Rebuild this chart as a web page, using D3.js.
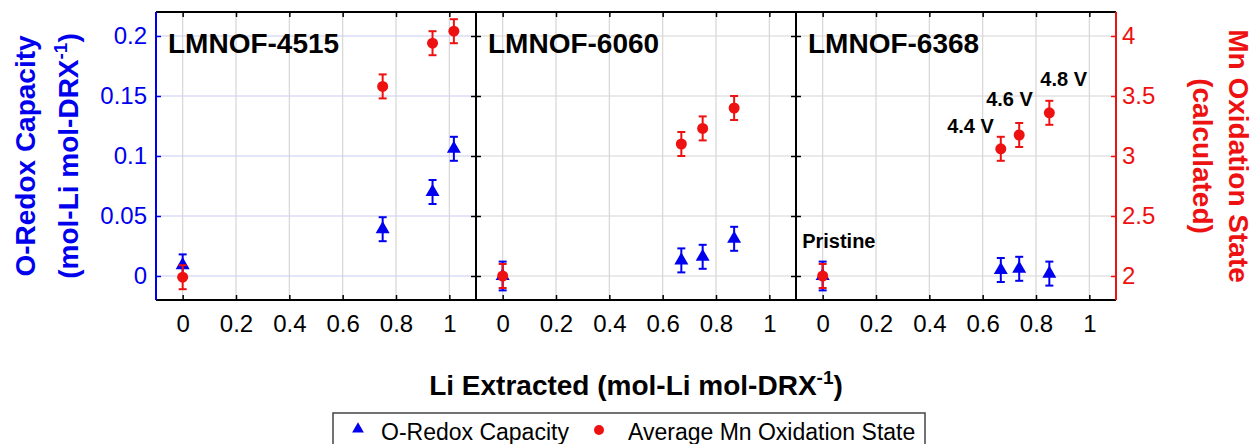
<!DOCTYPE html>
<html>
<head>
<meta charset="utf-8">
<script src="https://cdn.jsdelivr.net/npm/d3@7"></script>
<style>
  body { margin: 0; background: #fff; }
  svg { display: block; font-family: "Liberation Sans", Arial, sans-serif; }
</style>
</head>
<body>
<svg width="1255" height="444"></svg>
<script>
// ---- data ----
var panelNames = ["LMNOF-4515", "LMNOF-6060", "LMNOF-6368"];

var liExtracted = [
  [0, 0.75, 0.937, 1.017],
  [0, 0.67, 0.75, 0.868],
  [0, 0.668, 0.737, 0.85]
];
var oRedox = [
  [0.009, 0.039, 0.07, 0.106],
  [0, 0.013, 0.016, 0.031],
  [0, 0.005, 0.006, 0.002]
];
var oRedoxErr = [
  [0.009, 0.01, 0.01, 0.01],
  [0.012, 0.01, 0.01, 0.01],
  [0.012, 0.01, 0.01, 0.01]
];
var mnOx = [
  [1.99, 3.58, 3.94, 4.04],
  [2, 3.1, 3.23, 3.4],
  [2, 3.06, 3.175, 3.36]
];
var mnOxErr = [
  [0.1, 0.1, 0.1, 0.1],
  [0.1, 0.1, 0.1, 0.1],
  [0.1, 0.1, 0.1, 0.1]
];

var xTicks = [0, 0.2, 0.4, 0.6, 0.8, 1];
var yLeftTicks = [0, 0.05, 0.1, 0.15, 0.2];
var yRightTicks = [2, 2.5, 3, 3.5, 4];

// voltage labels in the last panel (x in Li extracted, y in Mn oxidation state)
var noteText = ["Pristine", "4.4 V", "4.6 V", "4.8 V"];
var noteX = [-0.077, 0.467, 0.613, 0.816];
var noteY = [2.233, 3.19, 3.417, 3.583];

var legendNames = ["O-Redox Capacity", "Average Mn Oxidation State"];

// ---- layout ----
var svg = d3.select("svg"),
    margin = {top: 12, left: 156},
    panelW = 320,
    panelH = 288,
    bottom = margin.top + panelH,
    blue = "#0000ee",
    red = "#ee1111",
    font = 24;

var yL = d3.scaleLinear().domain([-0.02, 0.22]).range([bottom, margin.top]);
var yR = d3.scaleLinear().domain([1.8, 4.2]).range([bottom, margin.top]);

var tri = d3.symbol().type(d3.symbolTriangle).size(85);

function styleAxis(sel, color, showText) {
  sel.select(".domain").remove();
  sel.selectAll(".tick line").attr("stroke", color).attr("stroke-width", 1.5);
  sel.selectAll(".tick text")
    .attr("fill", color)
    .style("font-size", font + "px")
    .style("font-family", '"Liberation Sans", Arial, sans-serif');
  if (!showText) sel.selectAll(".tick text").remove();
}

function errorBars(g, x, y, xs, vs, es, color) {
  var idx = d3.range(xs.length);
  var eb = g.append("g").attr("stroke", color).attr("stroke-width", 2);
  eb.selectAll(".v").data(idx).enter().append("line")
    .attr("x1", function(j) { return x(xs[j]); })
    .attr("x2", function(j) { return x(xs[j]); })
    .attr("y1", function(j) { return y(vs[j] - es[j]); })
    .attr("y2", function(j) { return y(vs[j] + es[j]); });
  [-1, 1].forEach(function(s) {
    eb.selectAll(".c" + s).data(idx).enter().append("line")
      .attr("x1", function(j) { return x(xs[j]) - 4; })
      .attr("x2", function(j) { return x(xs[j]) + 4; })
      .attr("y1", function(j) { return y(vs[j] + s * es[j]); })
      .attr("y2", function(j) { return y(vs[j] + s * es[j]); });
  });
}

panelNames.forEach(function(name, i) {
  var x0 = margin.left + i * panelW;
  var x = d3.scaleLinear().domain([-0.1, 1.1]).range([x0, x0 + panelW]);
  var g = svg.append("g");

  // grid
  g.selectAll(".vgrid").data(xTicks).enter().append("line")
    .attr("x1", x).attr("x2", x)
    .attr("y1", margin.top).attr("y2", bottom)
    .attr("stroke", "#d6d6d6").attr("stroke-width", 1.2);
  g.selectAll(".hgrid").data(yLeftTicks).enter().append("line")
    .attr("x1", x0).attr("x2", x0 + panelW)
    .attr("y1", yL).attr("y2", yL)
    .attr("stroke", i === 0 ? "#ccccf2" : "#d6d6d6").attr("stroke-width", 1.2);

  // x axes (labels at bottom, plain ticks at top)
  g.append("g")
    .attr("transform", "translate(0," + bottom + ")")
    .call(d3.axisBottom(x).tickValues(xTicks).tickFormat(String)
      .tickSizeInner(-5).tickSizeOuter(0).tickPadding(15))
    .call(styleAxis, "#000", true);
  g.append("g")
    .attr("transform", "translate(0," + margin.top + ")")
    .call(d3.axisTop(x).tickValues(xTicks).tickSizeInner(-5).tickSizeOuter(0))
    .call(styleAxis, "#000", false);

  // left ticks
  g.append("g")
    .attr("transform", "translate(" + x0 + ",0)")
    .call(d3.axisLeft(yL).tickValues(yLeftTicks).tickFormat(String)
      .tickSizeInner(-5).tickSizeOuter(0).tickPadding(9))
    .call(styleAxis, i === 0 ? blue : "#000", i === 0);

  // right ticks
  if (i === 2) {
    g.append("g")
      .attr("transform", "translate(" + (x0 + panelW) + ",0)")
      .call(d3.axisRight(yR).tickValues(yRightTicks).tickFormat(String)
        .tickSizeInner(-5).tickSizeOuter(0).tickPadding(6))
      .call(styleAxis, red, true);
  } else {
    g.append("g")
      .attr("transform", "translate(" + (x0 + panelW) + ",0)")
      .call(d3.axisRight(yL).tickValues(yLeftTicks).tickSizeInner(-5).tickSizeOuter(0))
      .call(styleAxis, "#000", false);
  }

  // frame
  var fr = g.append("g").attr("stroke-width", 2);
  fr.append("line").attr("x1", x0).attr("x2", x0 + panelW)
    .attr("y1", margin.top).attr("y2", margin.top).attr("stroke", "#000");
  fr.append("line").attr("x1", x0).attr("x2", x0 + panelW)
    .attr("y1", bottom).attr("y2", bottom).attr("stroke", "#000");
  fr.append("line").attr("x1", x0).attr("x2", x0)
    .attr("y1", margin.top).attr("y2", bottom)
    .attr("stroke", i === 0 ? blue : "#000");
  fr.append("line").attr("x1", x0 + panelW).attr("x2", x0 + panelW)
    .attr("y1", margin.top).attr("y2", bottom)
    .attr("stroke", i === 2 ? red : "#000");

  // panel label
  g.append("text")
    .attr("x", x0 + 12).attr("y", 53)
    .attr("font-size", 28).attr("font-weight", "bold")
    .text(name);

  // O-redox capacity (left axis)
  errorBars(g, x, yL, liExtracted[i], oRedox[i], oRedoxErr[i], blue);
  g.selectAll(".tri").data(d3.range(liExtracted[i].length)).enter().append("path")
    .attr("d", tri)
    .attr("transform", function(j) {
      return "translate(" + x(liExtracted[i][j]) + "," + yL(oRedox[i][j]) + ")";
    })
    .attr("fill", blue);

  // Mn oxidation state (right axis)
  errorBars(g, x, yR, liExtracted[i], mnOx[i], mnOxErr[i], red);
  g.selectAll(".dot").data(d3.range(liExtracted[i].length)).enter().append("circle")
    .attr("cx", function(j) { return x(liExtracted[i][j]); })
    .attr("cy", function(j) { return yR(mnOx[i][j]); })
    .attr("r", 5.5)
    .attr("fill", red);

  if (i === 2) {
    g.selectAll(".note").data(noteText).enter().append("text")
      .attr("x", function(d, k) { return x(noteX[k]); })
      .attr("y", function(d, k) { return yR(noteY[k]); })
      .attr("font-size", 20).attr("font-weight", "bold")
      .text(function(d) { return d; });
  }
});

// ---- axis titles ----
var leftT = svg.append("g").attr("font-size", 28).attr("font-weight", "bold")
  .attr("fill", blue).attr("text-anchor", "middle");
leftT.append("text")
  .attr("transform", "translate(35,156) rotate(-90)")
  .text("O-Redox Capacity");
var l2 = leftT.append("text")
  .attr("transform", "translate(78,156) rotate(-90)");
l2.append("tspan").text("(mol-Li mol-DRX");
l2.append("tspan").attr("font-size", 19).attr("dy", -11).text("-1");
l2.append("tspan").attr("dy", 11).text(")");

var rightT = svg.append("g").attr("font-size", 28).attr("font-weight", "bold")
  .attr("fill", red).attr("text-anchor", "middle");
rightT.append("text")
  .attr("transform", "translate(1229,156) rotate(90)")
  .text("Mn Oxidation State");
rightT.append("text")
  .attr("transform", "translate(1193,156) rotate(90)")
  .text("(calculated)");

var xt = svg.append("text")
  .attr("x", margin.left + panelW * 1.5).attr("y", 395)
  .attr("text-anchor", "middle").attr("font-size", 28).attr("font-weight", "bold");
xt.append("tspan").text("Li Extracted (mol-Li mol-DRX");
xt.append("tspan").attr("font-size", 19).attr("dy", -11).text("-1");
xt.append("tspan").attr("dy", 11).text(")");

// ---- legend ----
var lg = svg.append("g");
lg.append("rect")
  .attr("x", 333).attr("y", 413).attr("width", 592).attr("height", 45)
  .attr("fill", "#fff").attr("stroke", "#444").attr("stroke-width", 1.5);
lg.append("path")
  .attr("d", d3.symbol().type(d3.symbolTriangle).size(60))
  .attr("transform", "translate(358,429)").attr("fill", blue);
lg.append("circle").attr("cx", 599).attr("cy", 430).attr("r", 5).attr("fill", red);
lg.selectAll(".lt").data(legendNames).enter().append("text")
  .attr("x", function(d, k) { return k === 0 ? 381 : 628; })
  .attr("y", 440)
  .attr("font-size", 23)
  .text(function(d) { return d; });
</script>
</body>
</html>
